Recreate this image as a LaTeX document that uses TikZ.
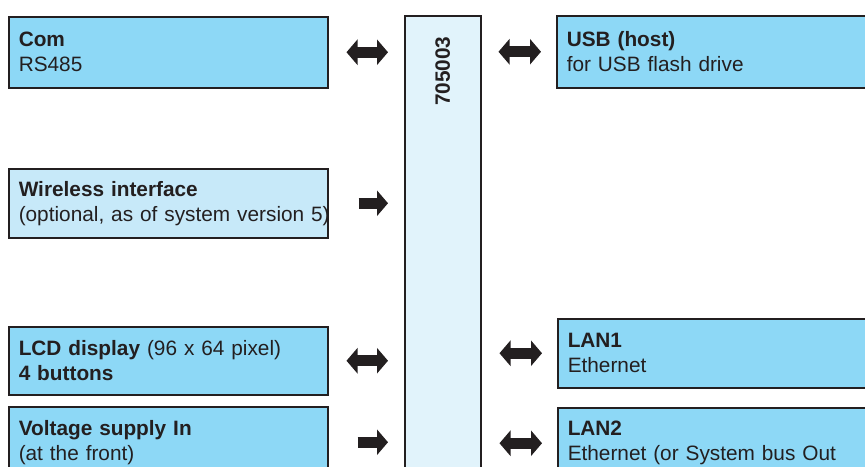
\documentclass[tikz,border=0pt]{standalone}
\usepackage{fontspec}
\setmainfont{Liberation Sans}
\usetikzlibrary{arrows.meta, positioning}
\definecolor{portblue}{HTML}{8DD8F6}
\definecolor{optblue}{HTML}{C7E9F9}
\definecolor{cpublue}{HTML}{E1F3FB}
\definecolor{inkgray}{HTML}{231F20}
\tikzset{
    x=1pt, y=-1pt, % one unit is one pixel of the drawing, y runs down
    every node/.style={font=\fontsize{20.8}{25}\selectfont, text=inkgray},
    port/.style={draw=inkgray, line width=1.5pt, fill=portblue, anchor=north west,
        minimum width=319pt, text width=299pt, inner xsep=10pt, inner ysep=0pt, align=left}, % interface boxes
    cpubox/.style={draw=inkgray, line width=1.5pt, fill=cpublue, anchor=north west,
        minimum width=76pt, minimum height=505pt}, % the device itself
    biarrow/.style={line width=11pt, draw=inkgray,
        {Triangle[width=25pt,length=11pt]}-{Triangle[width=25pt,length=11pt]}}, % both ways
    inarrow/.style={line width=11pt, draw=inkgray, -{Triangle[width=25pt,length=11pt]}}, % one way only
}
\begin{document}
\begin{tikzpicture}
    \useasboundingbox (0,0) rectangle (865,466);
    \clip (0,0) rectangle (865,466);
    % left side
    \node[port, minimum height=71pt] (com) at (8,16) {\textbf{Com}\\RS485};
    \node[port, minimum height=69pt, fill=optblue] (wireless) at (8,168) {\textbf{Wireless interface}\\\mbox{(optional, as of system version 5)}};
    \node[port, minimum height=68pt] (lcd) at (8,326) {\textbf{LCD display} (96 x 64 pixel)\\\textbf{4 buttons}};
    \node[port, minimum height=71pt] (supply) at (8,406) {\textbf{Voltage supply In}\\(at the front)};
    % device
    \node[cpubox] (cpu) at (404,15) {};
    \node[rotate=90, anchor=east, font=\fontsize{20.8}{25}\selectfont\bfseries] (cpulabel) at ([yshift=-18pt]cpu.north) {705003};
    % right side
    \node[port, minimum height=72pt, minimum width=340pt, text width=320pt] (usb) at (556,15) {\textbf{USB (host)}\\for USB flash drive};
    \node[port, minimum height=69pt, minimum width=340pt, text width=320pt] (lan1) at (557,318) {\textbf{LAN1}\\Ethernet};
    \node[port, minimum height=71pt, minimum width=340pt, text width=320pt] (lan2) at (557,407) {\textbf{LAN2}\\Ethernet (or System bus Out};
    % connections
    \draw[biarrow, shorten <=18pt, shorten >=16pt] (com.east) -- (com.east -| cpu.west);
    \draw[inarrow, shorten <=30pt, shorten >=16pt] (wireless.east) -- (wireless.east -| cpu.west);
    \draw[biarrow, shorten <=18pt, shorten >=16pt] (lcd.east) -- (lcd.east -| cpu.west);
    \draw[inarrow, shorten <=29pt, shorten >=16pt] (supply.east) -- (supply.east -| cpu.west);
    \draw[biarrow, shorten <=17pt, shorten >=15pt] (usb.west -| cpu.east) -- (usb.west);
    \draw[biarrow, shorten <=18pt, shorten >=15pt] (lan1.west -| cpu.east) -- (lan1.west);
    \draw[biarrow, shorten <=18pt, shorten >=15pt] (lan2.west -| cpu.east) -- (lan2.west);
\end{tikzpicture}
\end{document}
